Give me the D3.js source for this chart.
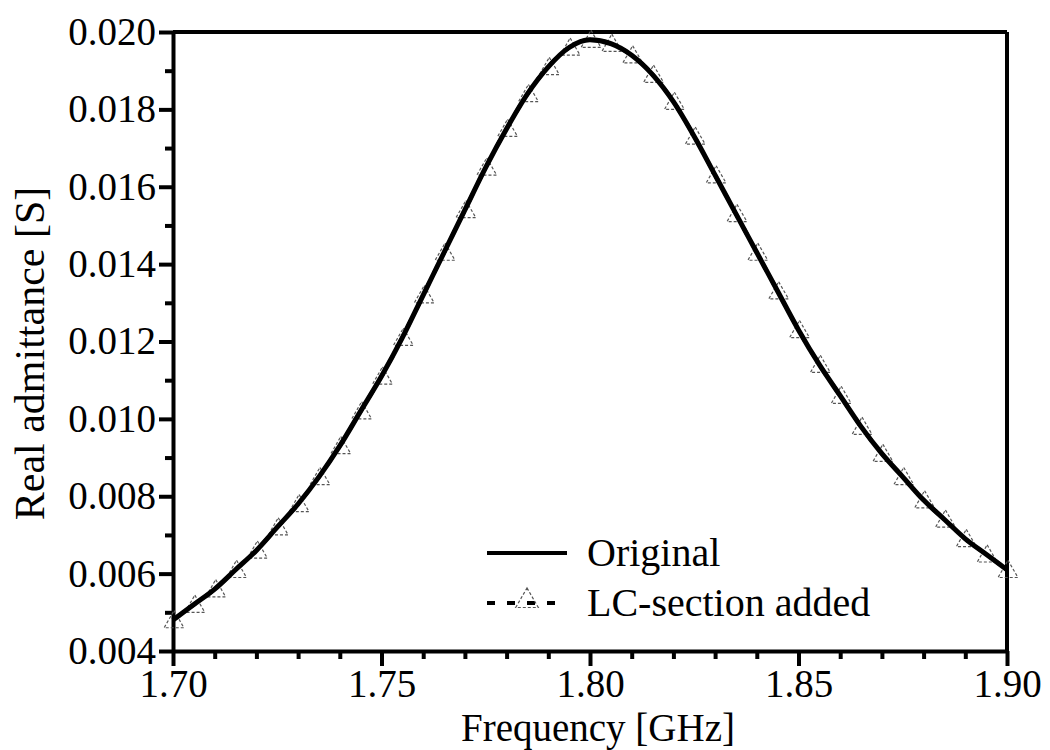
<!DOCTYPE html>
<html lang="en">
<head>
<meta charset="UTF-8">
<title>Real admittance</title>
<script src="https://d3js.org/d3.v7.min.js"></script>
<style>
  body { margin: 0; background: #fff; }
  svg { font-family: "Liberation Serif", "Times New Roman", serif; }
  .axis path, .axis line { stroke: #000; stroke-width: 4; }
  .axis text { font-family: "Liberation Serif", "Times New Roman", serif; font-size: 39px; fill: #000; }
</style>
</head>
<body>
<div id="chart"></div>
<script>
// frequency points [GHz]
const freq = [1.700, 1.705, 1.710, 1.715, 1.720, 1.725, 1.730, 1.735, 1.740, 1.745,
              1.750, 1.755, 1.760, 1.765, 1.770, 1.775, 1.780, 1.785, 1.790, 1.795,
              1.800, 1.805, 1.810, 1.815, 1.820, 1.825, 1.830, 1.835, 1.840, 1.845,
              1.850, 1.855, 1.860, 1.865, 1.870, 1.875, 1.880, 1.885, 1.890, 1.895, 1.900];

// real admittance [S]
const original = [0.0048, 0.0052, 0.0056, 0.0061, 0.0066, 0.0072, 0.0078, 0.0085, 0.0093, 0.0102,
                  0.0111, 0.0121, 0.0132, 0.0143, 0.0154, 0.0165, 0.0175, 0.0184, 0.0191, 0.0196,
                  0.0198, 0.0197, 0.0194, 0.0189, 0.0182, 0.0173, 0.0163, 0.0153, 0.0143, 0.0133,
                  0.0123, 0.0114, 0.0106, 0.0098, 0.0091, 0.0085, 0.0079, 0.0074, 0.0069, 0.0065, 0.0061];
const lcAdded = [0.0048, 0.0052, 0.0056, 0.0061, 0.0066, 0.0072, 0.0078, 0.0085, 0.0093, 0.0102,
                 0.0111, 0.0121, 0.0132, 0.0143, 0.0154, 0.0165, 0.0175, 0.0184, 0.0191, 0.0196,
                 0.0198, 0.0197, 0.0194, 0.0189, 0.0182, 0.0173, 0.0163, 0.0153, 0.0143, 0.0133,
                 0.0123, 0.0114, 0.0106, 0.0098, 0.0091, 0.0085, 0.0079, 0.0074, 0.0069, 0.0065, 0.0061];

const xMajor = [1.70, 1.75, 1.80, 1.85, 1.90];
const yMajor = [0.004, 0.006, 0.008, 0.010, 0.012, 0.014, 0.016, 0.018, 0.020];
const seriesNames = ["Original", "LC-section added"];

const W = 1050, H = 750;
const margin = { top: 32, right: 43, bottom: 99, left: 173 };
const width = W - margin.left - margin.right;
const height = H - margin.top - margin.bottom;

const svg = d3.select("#chart").append("svg")
    .attr("width", W)
    .attr("height", H);

const g = svg.append("g")
    .attr("transform", `translate(${margin.left},${margin.top})`);

const x = d3.scaleLinear().domain([1.70, 1.90]).range([0, width]);
const y = d3.scaleLinear().domain([0.004, 0.020]).range([height, 0]);

// minor ticks
const xMinor = d3.range(1.70, 1.9001, 0.01).filter(v => !xMajor.some(m => Math.abs(m - v) < 1e-6));
const yMinor = d3.range(0.005, 0.0200, 0.002);

g.append("g").attr("class", "axis")
    .attr("transform", `translate(0,${height})`)
    .call(d3.axisBottom(x).tickValues(xMinor).tickSize(8).tickFormat(""))
    .call(a => a.select(".domain").remove());
g.append("g").attr("class", "axis")
    .call(d3.axisLeft(y).tickValues(yMinor).tickSize(8).tickFormat(""))
    .call(a => a.select(".domain").remove());

// major axes
g.append("g").attr("class", "axis")
    .attr("transform", `translate(0,${height})`)
    .call(d3.axisBottom(x).tickValues(xMajor).tickSize(15).tickSizeOuter(0)
        .tickPadding(3).tickFormat(d3.format(".2f")));
g.append("g").attr("class", "axis")
    .call(d3.axisLeft(y).tickValues(yMajor).tickSize(14).tickSizeOuter(0)
        .tickPadding(3).tickFormat(d3.format(".3f")));

// top and right frame
g.append("line").attr("x1", 0).attr("x2", width).attr("y1", 0).attr("y2", 0)
    .attr("stroke", "#000").attr("stroke-width", 4);
g.append("line").attr("x1", width).attr("x2", width).attr("y1", 0).attr("y2", height)
    .attr("stroke", "#000").attr("stroke-width", 4);

const line = d3.line()
    .x(d => x(d[0]))
    .y(d => y(d[1]))
    .curve(d3.curveMonotoneX);

const lcPts = freq.map((f, i) => [f, lcAdded[i]]);
const origPts = freq.map((f, i) => [f, original[i]]);

// LC-section added: dashed line with open triangles
g.append("path").datum(lcPts)
    .attr("d", line)
    .attr("fill", "none")
    .attr("stroke", "#000")
    .attr("stroke-width", 4)
    .attr("stroke-dasharray", "8,12");

const tri = d3.symbol().type(d3.symbolTriangle).size(170);
g.selectAll(".tri").data(lcPts).enter().append("path")
    .attr("class", "tri")
    .attr("d", tri)
    .attr("transform", d => `translate(${x(d[0]) + 1},${y(d[1]) + 2})`)
    .attr("fill", "none")
    .attr("stroke", "#555")
    .attr("stroke-width", 1.2)
    .attr("stroke-dasharray", "3,2");

// Original: solid thick line on top
g.append("path").datum(origPts)
    .attr("d", line)
    .attr("fill", "none")
    .attr("stroke", "#000")
    .attr("stroke-width", 5);

// axis titles
svg.append("text")
    .attr("x", margin.left + width / 2 + 8)
    .attr("y", 741)
    .attr("text-anchor", "middle")
    .attr("font-size", 39)
    .text("Frequency [GHz]");

svg.append("text")
    .attr("transform", `translate(44,${margin.top + height / 2 + 12}) rotate(-90)`)
    .attr("text-anchor", "middle")
    .attr("font-size", 42)
    .text("Real admittance [S]");

// legend
const legend = svg.append("g").attr("transform", "translate(487,553)");
legend.append("line").attr("x1", 0).attr("x2", 80).attr("y1", 0).attr("y2", 0)
    .attr("stroke", "#000").attr("stroke-width", 4);
legend.append("text").attr("x", 100).attr("y", 13).attr("font-size", 40).text(seriesNames[0]);

const row2 = legend.append("g").attr("transform", "translate(0,50)");
row2.append("line").attr("x1", 0).attr("x2", 80).attr("y1", 0).attr("y2", 0)
    .attr("stroke", "#000").attr("stroke-width", 4).attr("stroke-dasharray", "8,12");
row2.append("path").attr("d", d3.symbol().type(d3.symbolTriangle).size(220))
    .attr("transform", "translate(40,-2)")
    .attr("fill", "none").attr("stroke", "#555").attr("stroke-width", 1.2)
    .attr("stroke-dasharray", "3,2");
row2.append("text").attr("x", 100).attr("y", 13).attr("font-size", 40).text(seriesNames[1]);
</script>
</body>
</html>
